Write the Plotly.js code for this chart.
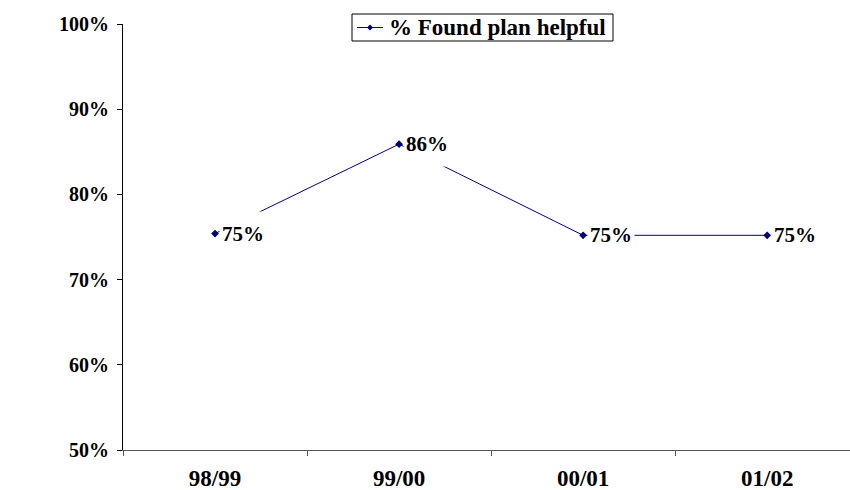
<!DOCTYPE html>
<html>
<head>
<meta charset="utf-8">
<script src="https://cdn.plot.ly/plotly-3.0.1.min.js"></script>
<style>html,body{margin:0;padding:0;background:#fff;}#chart{width:850px;height:490px;}</style>
</head>
<body>
<div id="chart"></div>
<script>
const categories = ['98/99', '99/00', '00/01', '01/02'];
const foundHelpful = [75.4, 85.9, 75.2, 75.2];
const seriesName = '% Found plan helpful';
const yTicks = [50, 60, 70, 80, 90, 100];

const fontFam = '"Liberation Serif", "Times New Roman", serif';
const navy = '#000080';

const trace = {
  x: categories,
  y: foundHelpful,
  type: 'scatter',
  mode: 'lines+markers',
  name: seriesName,
  line: {color: navy, width: 1},
  marker: {symbol: 'diamond', size: 6, color: navy},
  showlegend: false
};

// plot area geometry helpers for the legend box (paper coords)
const W = 850, H = 490, ML = 123, MR = 0, MT = 24, MB = 40;
const px = v => (v - ML) / (W - ML - MR);
const py = v => (H - MB - v) / (H - MT - MB);

const annotations = categories.map((c, i) => ({
  x: c, y: foundHelpful[i], xref: 'x', yref: 'y',
  text: Math.round(foundHelpful[i]) + '%',
  showarrow: false, xanchor: 'left', yanchor: 'middle', xshift: 4,
  height: 40, bgcolor: '#ffffff', borderpad: 2,
  font: {family: fontFam, size: 21, color: '#000', weight: 'bold'}
}));

// legend (drawn as box + sample + text)
annotations.push({
  x: px(387), y: py(27.5), xref: 'paper', yref: 'paper',
  xanchor: 'left', yanchor: 'middle', showarrow: false,
  text: seriesName,
  font: {family: fontFam, size: 23, color: '#000', weight: 'bold'}
});
const lx0 = px(357), lx1 = px(383), lxm = px(370), ly = py(27.5);
const dx = 3 / (W - ML - MR), dy = 3 / (H - MT - MB);
const shapes = [
  {type: 'rect', xref: 'paper', yref: 'paper', x0: px(352), x1: px(613), y0: py(41), y1: py(14),
   fillcolor: '#fff', line: {color: '#000', width: 1}, layer: 'above'},
  {type: 'line', xref: 'paper', yref: 'paper', x0: lx0, x1: lx1, y0: ly, y1: ly,
   line: {color: navy, width: 1}, layer: 'above'},
  {type: 'path', xref: 'paper', yref: 'paper',
   path: `M ${lxm - dx} ${ly} L ${lxm} ${ly + dy} L ${lxm + dx} ${ly} L ${lxm} ${ly - dy} Z`,
   fillcolor: navy, line: {color: navy, width: 0}, layer: 'above'}
];

const layout = {
  width: W, height: H,
  margin: {l: ML, r: MR, t: MT, b: MB},
  paper_bgcolor: '#fff', plot_bgcolor: '#fff',
  showlegend: false,
  xaxis: {
    type: 'category', range: [-0.5, 3.45],
    showgrid: false, zeroline: false,
    showline: true, linecolor: '#555', linewidth: 1,
    ticks: 'outside', ticklen: 5, tickcolor: '#555', tickson: 'boundaries',
    ticklabelstandoff: 7,
    tickfont: {family: fontFam, size: 23, color: '#000', weight: 'bold'}
  },
  yaxis: {
    range: [50, 100], tickvals: yTicks, ticktext: yTicks.map(v => v + '%'),
    showgrid: false, zeroline: false,
    showline: true, linecolor: '#000', linewidth: 1,
    ticks: 'outside', ticklen: 5, tickcolor: '#000',
    ticklabelstandoff: 4,
    tickfont: {family: fontFam, size: 20, color: '#000', weight: 'bold'}
  },
  annotations: annotations,
  shapes: shapes
};

Plotly.newPlot('chart', [trace], layout, {displayModeBar: false, staticPlot: true});
</script>
</body>
</html>
